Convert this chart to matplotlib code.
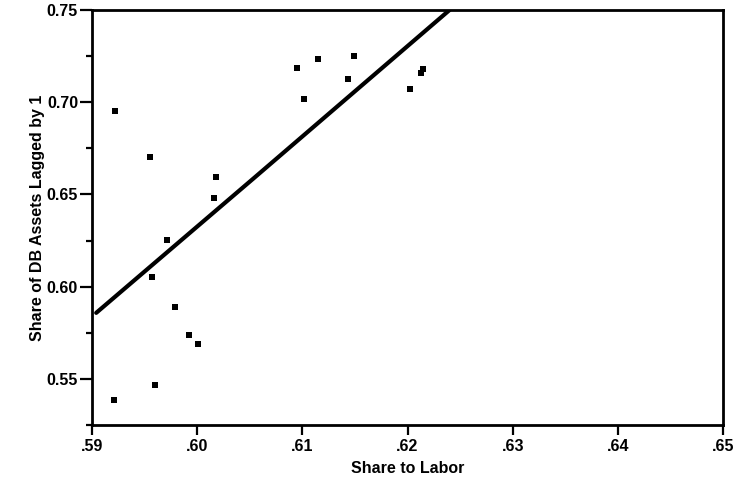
import matplotlib
matplotlib.use('Agg')
import matplotlib.pyplot as plt
import numpy as np

# scatter of observations
labor_share = [0.5922, 0.5955, 0.5971, 0.5957, 0.5979, 0.5992, 0.6001, 0.5960, 0.5921,
               0.6018, 0.6016, 0.6095, 0.6115, 0.6149, 0.6143, 0.6102, 0.6202, 0.6215, 0.6213]
db_share = [0.6951, 0.6704, 0.6254, 0.6052, 0.5892, 0.5740, 0.5691, 0.5467, 0.5386,
            0.6594, 0.6479, 0.7184, 0.7233, 0.7253, 0.7126, 0.7020, 0.7069, 0.7178, 0.7160]

# fitted line
fit_x = [0.5904, 0.6053, 0.6240]
fit_y = [0.5858, 0.6584, 0.7500]

x_ticks = [0.59, 0.60, 0.61, 0.62, 0.63, 0.64, 0.65]
x_tick_labels = ['.59', '.60', '.61', '.62', '.63', '.64', '.65']
y_ticks = [0.55, 0.60, 0.65, 0.70, 0.75]
y_tick_labels = ['0.55', '0.60', '0.65', '0.70', '0.75']

plt.rcParams['font.family'] = ['Liberation Sans', 'DejaVu Sans']

fig = plt.figure(figsize=(7.35, 4.9), dpi=100)
ax = fig.add_axes([92 / 735, 65 / 490, 631 / 735, 415 / 490])

ax.plot(fit_x, fit_y, color='black', linewidth=3.0, solid_capstyle='round')
ax.scatter(labor_share, db_share, marker='s', s=14, color='black', linewidths=0)

ax.set_xlim(0.59, 0.65)
ax.set_ylim(0.525, 0.75)

ax.set_xticks(x_ticks)
ax.set_xticklabels(x_tick_labels, fontsize=11.5, fontweight='bold')
ax.set_yticks(y_ticks)
ax.set_yticklabels(y_tick_labels, fontsize=11.5, fontweight='bold')
ax.set_yticks(np.arange(0.525, 0.751, 0.025), minor=True)
ax.tick_params(axis='x', which='major', direction='out', length=7, width=1.6, pad=3)
ax.tick_params(axis='y', which='major', direction='out', length=9, width=1.6, pad=1)
ax.tick_params(axis='y', which='minor', direction='out', length=4, width=1.6)

for sp in ax.spines.values():
    sp.set_linewidth(2.0)

ax.set_xlabel('Share to Labor', fontsize=11.5, fontweight='bold', labelpad=5)
ax.set_ylabel('Share of DB Assets Lagged by 1', fontsize=11.5, fontweight='bold', labelpad=1)

fig.savefig('out.png', dpi=100)
